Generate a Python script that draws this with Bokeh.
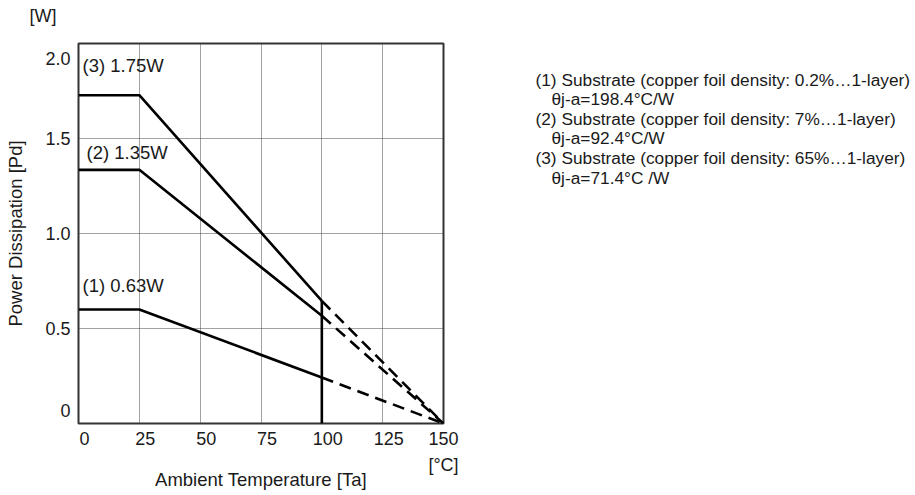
from bokeh.plotting import figure
from bokeh.layouts import row
from bokeh.models import FixedTicker, Range1d, LinearAxis
from bokeh.embed import file_html
from bokeh.resources import INLINE
from bokeh.core.properties import value

# ---- data ----
temps = [0, 25, 100, 150]
pd1 = [0.60, 0.60, 0.242, 0.0]
pd2 = [1.335, 1.335, 0.567, 0.0]
pd3 = [1.728, 1.728, 0.645, 0.0]
x_ticks = [0, 25, 50, 75, 100, 125, 150]
x_tick_labels = ["0", "25", "50", "75", "100", "125", "150"]
y_ticks = [0, 0.5, 1.0, 1.5, 2.0]
y_tick_labels = ["0", "0.5", "1.0", "1.5", "2.0"]
curve_labels = ["(1) 0.63W", "(2) 1.35W", "(3) 1.75W"]
legend_lines = [
    "(1) Substrate (copper foil density: 0.2%\u20261-layer)",
    "\u03b8j-a=198.4\u00b0C/W",
    "(2)  Substrate (copper foil density: 7%\u20261-layer)",
    "\u03b8j-a=92.4\u00b0C/W",
    "(3)  Substrate (copper foil density: 65%\u20261-layer)",
    "\u03b8j-a=71.4\u00b0C /W",
]

FONT = "Liberation Sans"
TXT = "#1a1a1a"
FRAME_W, FRAME_H = 365, 380
LEFT, TOP, RIGHT, BOTTOM = 78, 43, 22, 69
X0, X1, Y0, Y1 = 0, 150, 0, 2
PX_X = FRAME_W / (X1 - X0)   # pixels per degree
PX_Y = FRAME_H / (Y1 - Y0)   # pixels per watt

p = figure(frame_width=FRAME_W, frame_height=FRAME_H,
           x_range=Range1d(X0, X1), y_range=Range1d(Y0, Y1),
           output_backend="svg", toolbar_location=None,
           min_border_left=LEFT, min_border_top=TOP, min_border_right=RIGHT,
           min_border_bottom=BOTTOM)
p.background_fill_color = "white"
p.border_fill_color = "white"
p.outline_line_color = "#333333"
p.outline_line_width = 2

# unit label [W] as the (left aligned) title above the axis
p.title.text = "[W]"
p.title.align = "left"
p.title.offset = -49
p.title.standoff = 4
p.title.text_font = FONT
p.title.text_font_size = "18px"
p.title.text_font_style = "normal"
p.title.text_color = TXT
try:
    p.title.padding = dict(left=0, right=0, top=0, bottom=16)
except Exception:
    pass

# tick label positions (labels in the reference sit slightly off the grid)
x_nudge = round(6 / PX_X, 3)
x_label_pos = [round(min(t + x_nudge, X1), 3) for t in x_ticks]
y_label_pos = list(y_ticks)
y_label_pos[0] = round(y_ticks[0] + 13 / PX_Y, 3)
y_label_pos[-1] = round(y_ticks[-1] - 15 / PX_Y, 3)

xax = p.xaxis[0]
yax = p.yaxis[0]
xax.ticker = FixedTicker(ticks=x_label_pos)
xax.major_label_overrides = dict(zip(x_label_pos, x_tick_labels))
yax.ticker = FixedTicker(ticks=y_label_pos)
yax.major_label_overrides = dict(zip(y_label_pos, y_tick_labels))

# second axis below carrying the [°C] unit and the axis title
unit_pos = float(X1)
ax2 = LinearAxis(ticker=FixedTicker(ticks=[unit_pos]),
                 major_label_overrides={unit_pos: "[\u00b0C]"})
p.add_layout(ax2, "below")

for ax in (xax, yax, ax2):
    ax.axis_line_color = None
    ax.major_tick_line_color = None
    ax.minor_tick_line_color = None
    ax.major_tick_out = 0
    ax.major_tick_in = 0
    ax.major_label_standoff = 8
    ax.major_label_text_font = FONT
    ax.major_label_text_font_size = "18px"
    ax.major_label_text_color = TXT
    ax.axis_label_text_font = FONT
    ax.axis_label_text_font_size = "18.5px"
    ax.axis_label_text_font_style = "normal"
    ax.axis_label_text_color = TXT
ax2.major_label_standoff = 7
ax2.axis_label = "Ambient Temperature [Ta]"
ax2.axis_label_standoff = -9
yax.axis_label = "Power Dissipation [Pd]"
yax.axis_label_standoff = 16

# grid
p.xgrid.ticker = FixedTicker(ticks=x_ticks[1:-1])
p.ygrid.ticker = FixedTicker(ticks=y_ticks[1:-1])
for g in (p.xgrid, p.ygrid):
    g.grid_line_color = "#444444"
    g.grid_line_dash = "1 1"
    g.grid_line_width = 1

# curves: solid up to 100 C, dashed from 100 C to 150 C
for series in (pd1, pd2, pd3):
    p.line(temps[:3], series[:3], line_color="black", line_width=2.6)
    p.line(temps[2:], series[2:], line_color="black", line_width=2.6,
           line_dash="12 7")
# vertical limit at 100 C
p.line([temps[2], temps[2]], [0, pd3[2]], line_color="black", line_width=2.6)

# curve annotations
p.text(x=[1.64, 3.29, 1.64], y=[0.726, 1.426, 1.884], text=curve_labels,
       text_font=value(FONT), text_font_size=value("18.5px"),
       text_color=TXT, text_baseline="middle", text_align="left")

# ---- legend panel to the right (same vertical frame as the chart) ----
MAIN_W = LEFT + FRAME_W + RIGHT
LEG_W = 912 - MAIN_W
leg = figure(frame_width=LEG_W, frame_height=FRAME_H,
             x_range=Range1d(0, LEG_W), y_range=Range1d(Y0, Y1),
             output_backend="svg", toolbar_location=None,
             x_axis_location=None, y_axis_location=None,
             min_border_left=0, min_border_right=0,
             min_border_top=TOP, min_border_bottom=BOTTOM)
leg.grid.visible = False
leg.outline_line_color = None
leg.background_fill_color = "white"
leg.border_fill_color = "white"
step = 19.6
lx = [(535 if i % 2 == 0 else 551) - MAIN_W for i in range(len(legend_lines))]
ly = [Y1 - (79 + i * step - TOP) / PX_Y for i in range(len(legend_lines))]
leg.text(x=lx, y=ly, text=legend_lines, text_font=value(FONT),
         text_font_size=value("17.3px"), text_color=TXT,
         text_baseline="middle", text_align="left")

layout = row(p, leg, spacing=0)
open("out.html", "w").write(file_html(layout, INLINE))
